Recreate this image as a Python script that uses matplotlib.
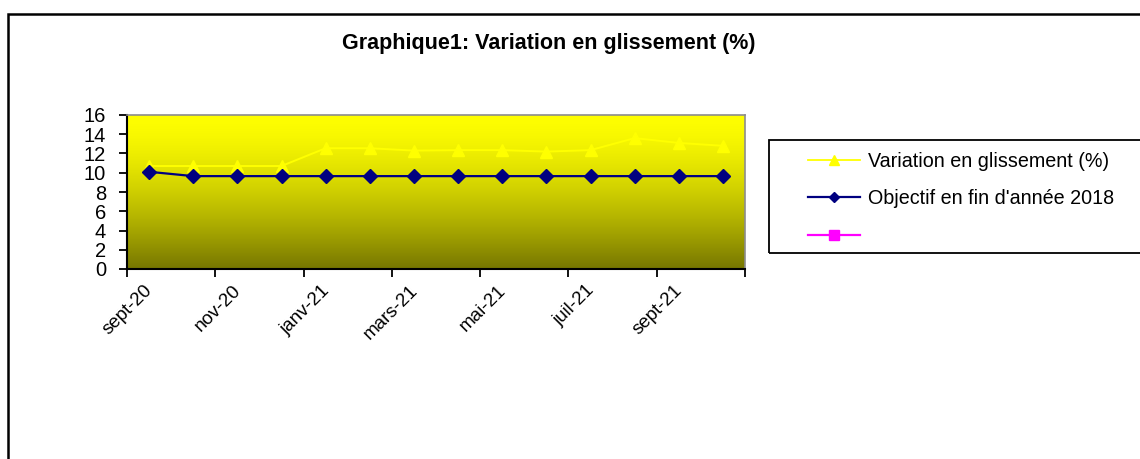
import numpy as np
import matplotlib
matplotlib.use("Agg")
import matplotlib.pyplot as plt
from matplotlib.lines import Line2D
from matplotlib.patches import Rectangle
from matplotlib.transforms import blended_transform_factory, ScaledTranslation

plt.rcParams['font.family'] = ['Liberation Sans', 'DejaVu Sans']

months = ["sept-20", "oct-20", "nov-20", "déc-20", "janv-21", "févr-21", "mars-21",
          "avr-21", "mai-21", "juin-21", "juil-21", "août-21", "sept-21", "oct-21"]
variation = [10.7, 10.7, 10.7, 10.7, 12.55, 12.55, 12.3, 12.35, 12.35, 12.2, 12.35, 13.6, 13.1, 12.8]
objectif = [10.1, 9.65, 9.65, 9.65, 9.65, 9.65, 9.65, 9.65, 9.65, 9.65, 9.65, 9.65, 9.65, 9.65]
yticks = [0, 2, 4, 6, 8, 10, 12, 14, 16]
title = "Graphique1: Variation en glissement (%)"
legend_labels = ["Variation en glissement (%)", "Objectif en fin d'année 2018", ""]

W, H = 1140, 459
fig = plt.figure(figsize=(W / 100, H / 100), dpi=100)
fig.patch.set_facecolor("white")

# outer chart frame
fig.patches.append(Rectangle((8 / W, 1 - 470 / H), 1200 / W, (470 - 14) / H,
                             transform=fig.transFigure, fill=False,
                             edgecolor="black", linewidth=1.8))

ax = fig.add_axes([127 / W, 1 - 269 / H, (745 - 127) / W, (269 - 115) / H])
n = len(months)
x = np.arange(n)

# gradient background (yellow at top, olive at bottom)
t = np.linspace(0, 1, 256) ** 1.5
top = np.array([255, 255, 0]) / 255
bot = np.array([118, 118, 0]) / 255
grad = top[None, :] * (1 - t[:, None]) + bot[None, :] * t[:, None]
ax.imshow(grad[:, None, :], aspect="auto", extent=[-0.5, n - 0.5, 0, 16],
          origin="upper", zorder=0, interpolation="bilinear")
ax.set_xlim(-0.5, n - 0.5)
ax.set_ylim(0, 16)

ax.plot(x, variation, color="#ffff00", linewidth=1.4, marker="^", markersize=8,
        markerfacecolor="#ffff00", markeredgecolor="#ffff00", zorder=3)
ax.plot(x, objectif, color="#000080", linewidth=1.6, marker="D", markersize=6.8,
        markerfacecolor="#000080", markeredgecolor="#000080", zorder=4)
ax.plot([], [], color="#ff00ff", linewidth=1.6, marker="s", markersize=6.5)

for s in ["top", "right"]:
    ax.spines[s].set_color("#8c8c8c")
    ax.spines[s].set_linewidth(1.2)
for s in ["left", "bottom"]:
    ax.spines[s].set_color("black")
    ax.spines[s].set_linewidth(1.5)

ax.set_yticks(yticks)
ax.set_yticklabels([str(v) for v in yticks], fontsize=14.5)
ax.tick_params(axis="y", direction="out", length=6, width=1.3, pad=9)

ax.set_xticks(np.arange(-0.5, n, 2.0))
ax.set_xticklabels([])
ax.tick_params(axis="x", direction="out", length=6, width=1.3)

trans = blended_transform_factory(ax.transData, ax.transAxes)
off = ScaledTranslation(1 / 100, -19 / 100, fig.dpi_scale_trans)
for i in range(0, n, 2):
    ax.text(i, 0, months[i], transform=trans + off, rotation=45,
            rotation_mode="anchor", ha="right", va="center", fontsize=13.5)

fig.text(549 / W, 1 - 43 / H, title, ha="center", va="center",
         fontsize=15.5, fontweight="bold")

# legend box
fig.patches.append(Rectangle((769 / W, 1 - 253 / H), 500 / W, (253 - 140) / H,
                             transform=fig.transFigure, fill=False,
                             edgecolor="black", linewidth=1.3))
h1 = Line2D([], [], color="#ffff00", linewidth=1.3, marker="^", markersize=7,
            markerfacecolor="#ffff00", markeredgecolor="#ffff00")
h2 = Line2D([], [], color="#000080", linewidth=1.6, marker="D", markersize=5.5,
            markerfacecolor="#000080", markeredgecolor="#000080")
h3 = Line2D([], [], color="#ff00ff", linewidth=1.6, marker="s", markersize=6.5)
fig.legend([h1, h2, h3], legend_labels, loc="upper left",
           bbox_to_anchor=(808 / W, 1 - 152 / H), frameon=False, fontsize=14.2,
           handlelength=2.65, handletextpad=0.4, labelspacing=0.93,
           borderpad=0, borderaxespad=0)

fig.savefig("out.png", dpi=100)
